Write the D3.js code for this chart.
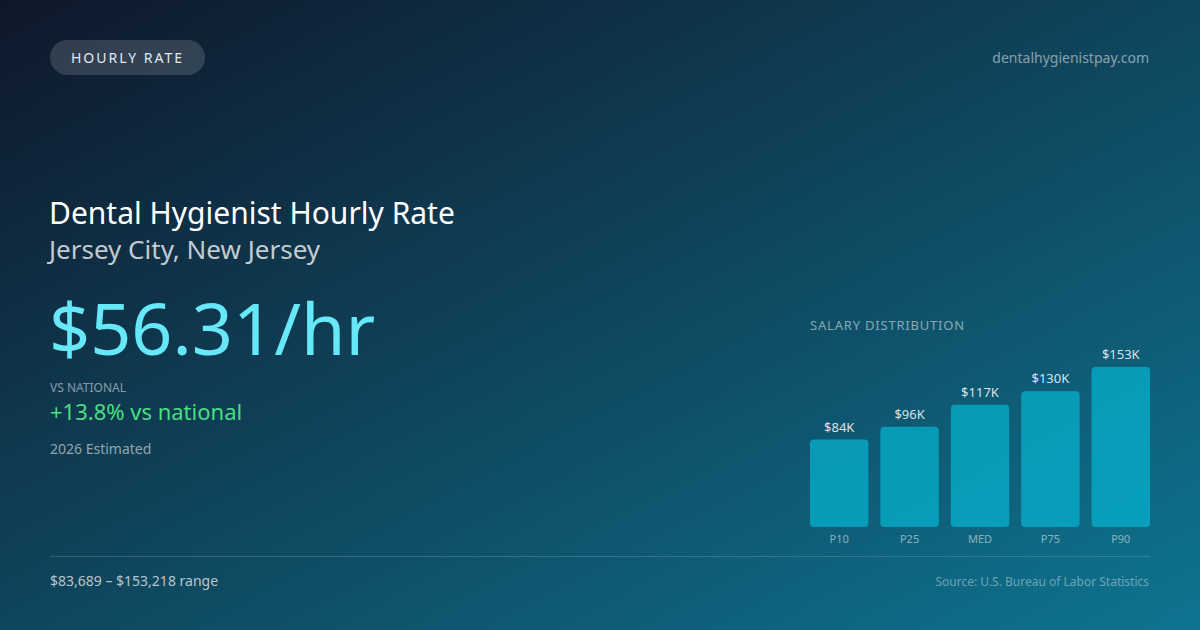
<html>
	<head>
		<meta charset="utf-8">
		<title>Dental Hygienist Hourly Rate</title>
		<script src="https://d3js.org/d3.v7.min.js"></script>
		<style>
			body { margin: 0; background: #0f172a; }
			svg { display: block; }
		</style>
	</head>
	<body>
		<script>

// Data //
			const percentiles = ["P10", "P25", "MED", "P75", "P90"];
			const salaries = [83689, 96000, 117125, 130000, 153218];
			const hourlyRate = 56.31;
			const vsNational = 13.8;

			const width = 1200;
			const height = 630;
			const font = "'Noto Sans', 'Open Sans', sans-serif";

			const svg = d3.select("body").append("svg")
				.attr("width", width)
				.attr("height", height)
				.attr("font-family", font);

			// background gradient
			const defs = svg.append("defs");
			const bg = defs.append("linearGradient")
				.attr("id", "bg")
				.attr("x1", 0).attr("y1", 0)
				.attr("x2", 1).attr("y2", 1);
			bg.append("stop").attr("offset", "0%").attr("stop-color", "#0f172a");
			bg.append("stop").attr("offset", "100%").attr("stop-color", "#0e7490");

			svg.append("rect")
				.attr("width", width)
				.attr("height", height)
				.attr("fill", "url(#bg)");

			// header pill
			svg.append("rect")
				.attr("x", 50).attr("y", 40)
				.attr("width", 155).attr("height", 35)
				.attr("rx", 17.5)
				.attr("fill", "rgba(255,255,255,0.15)");

			svg.append("text")
				.attr("x", 127.5).attr("y", 63)
				.attr("text-anchor", "middle")
				.attr("font-size", 14)
				.attr("letter-spacing", 2)
				.attr("fill", "#e2e8f0")
				.text("HOURLY RATE");

			svg.append("text")
				.attr("x", 1149).attr("y", 63)
				.attr("text-anchor", "end")
				.attr("font-size", 14)
				.attr("fill", "rgba(255,255,255,0.5)")
				.text("dentalhygienistpay.com");

			// titles
			svg.append("text")
				.attr("x", 49).attr("y", 224)
				.attr("font-size", 30)
				.attr("fill", "#ffffff")
				.text("Dental Hygienist Hourly Rate");

			svg.append("text")
				.attr("x", 49).attr("y", 259)
				.attr("font-size", 26)
				.attr("fill", "rgba(255,255,255,0.75)")
				.text("Jersey City, New Jersey");

			svg.append("text")
				.attr("x", 49).attr("y", 355)
				.attr("font-size", 72)
				.attr("fill", "#67e8f9")
				.text("$" + hourlyRate.toFixed(2) + "/hr");

			svg.append("text")
				.attr("x", 50).attr("y", 392)
				.attr("font-size", 12)
				.attr("fill", "rgba(255,255,255,0.5)")
				.text("VS NATIONAL");

			svg.append("text")
				.attr("x", 50).attr("y", 420)
				.attr("font-size", 22)
				.attr("fill", "#4ade80")
				.text("+" + vsNational.toFixed(1) + "% vs national");

			svg.append("text")
				.attr("x", 50).attr("y", 454)
				.attr("font-size", 14)
				.attr("fill", "rgba(255,255,255,0.55)")
				.text("2026 Estimated");

			// chart
			const chart = { left: 810, right: 1150, top: 367, bottom: 527 };

			svg.append("text")
				.attr("x", chart.left).attr("y", 330)
				.attr("font-size", 13)
				.attr("letter-spacing", 0.8)
				.attr("fill", "rgba(255,255,255,0.5)")
				.text("SALARY DISTRIBUTION");

			const x = d3.scaleBand()
				.domain(percentiles)
				.range([chart.left, chart.right])
				.paddingInner(0.17)
				.paddingOuter(0);

			const y = d3.scaleLinear()
				.domain([0, d3.max(salaries)])
				.range([chart.bottom, chart.top]);

			const bars = svg.append("g")
				.selectAll("g")
				.data(percentiles.map((p, i) => ({ name: p, value: salaries[i] })))
				.join("g");

			bars.append("rect")
				.attr("x", d => x(d.name))
				.attr("y", d => y(d.value))
				.attr("width", x.bandwidth())
				.attr("height", d => y(0) - y(d.value))
				.attr("rx", 4)
				.attr("fill", "rgba(6,182,212,0.7)");

			bars.append("text")
				.attr("x", d => x(d.name) + x.bandwidth() / 2)
				.attr("y", d => y(d.value) - 8)
				.attr("text-anchor", "middle")
				.attr("font-size", 13)
				.attr("fill", "rgba(255,255,255,0.85)")
				.text(d => "$" + Math.round(d.value / 1000) + "K");

			bars.append("text")
				.attr("x", d => x(d.name) + x.bandwidth() / 2)
				.attr("y", 543)
				.attr("text-anchor", "middle")
				.attr("font-size", 11)
				.attr("fill", "rgba(255,255,255,0.5)")
				.text(d => d.name);

			// footer
			svg.append("line")
				.attr("x1", 50).attr("x2", 1150)
				.attr("y1", 556.5).attr("y2", 556.5)
				.attr("stroke", "rgba(255,255,255,0.15)");

			const fmt = d3.format(",");
			svg.append("text")
				.attr("x", 50).attr("y", 586)
				.attr("font-size", 14)
				.attr("fill", "rgba(255,255,255,0.7)")
				.text("$" + fmt(salaries[0]) + " \u2013 $" + fmt(salaries[salaries.length - 1]) + " range");

			svg.append("text")
				.attr("x", 1149).attr("y", 586)
				.attr("text-anchor", "end")
				.attr("font-size", 12)
				.attr("fill", "rgba(255,255,255,0.4)")
				.text("Source: U.S. Bureau of Labor Statistics");

		</script>
	</body>
</html>
